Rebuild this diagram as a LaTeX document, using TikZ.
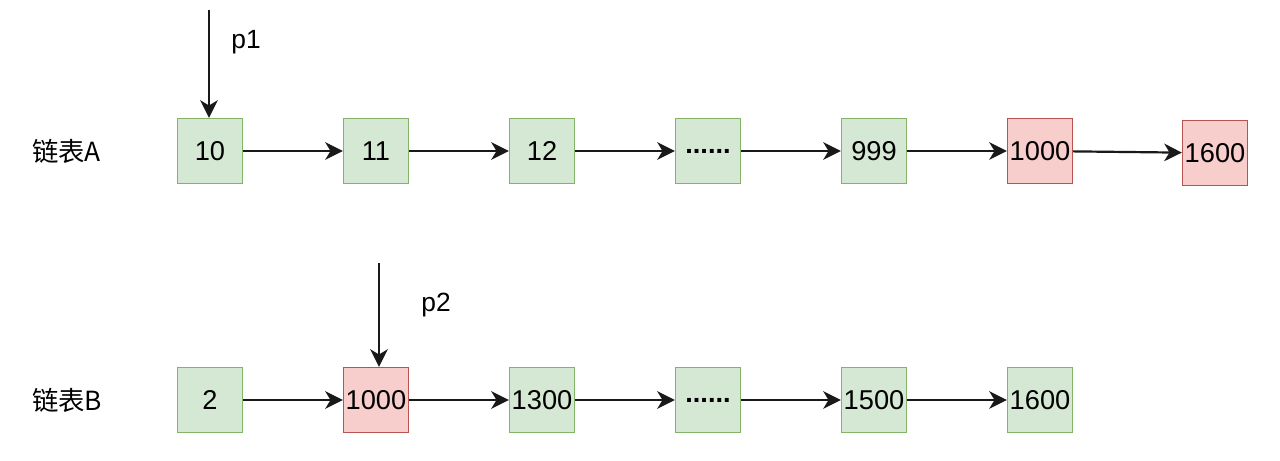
\documentclass[tikz,border=0pt]{standalone}
\usepackage{fontspec}
\setmainfont{Liberation Sans}
\newfontfamily\cjkfont{Noto Sans CJK SC}
\usetikzlibrary{arrows.meta}
\definecolor{nodegreen}{HTML}{D5E8D4}
\definecolor{edgegreen}{HTML}{82B366}
\definecolor{nodered}{HTML}{F8CECC}
\definecolor{edgered}{HTML}{B85450}
\begin{document}
\begin{tikzpicture}[
    x=0.02cm, y=-0.02cm,
    % Define styles
    cell/.style={rectangle, draw=edgegreen, fill=nodegreen, line width=0.8pt, minimum width=1.3cm, minimum height=1.3cm, inner sep=0pt, text centered, font=\fontsize{15.5}{18}\selectfont},
    hit/.style={cell, draw=edgered, fill=nodered},
    listname/.style={font=\cjkfont\fontsize{15}{18}\selectfont, anchor=west},
    ptrname/.style={font=\fontsize{15}{18}\selectfont},
    flow/.style={-{Stealth[length=10pt, width=10pt, inset=3pt]}, line width=1.25pt, color=black!90}
]
\useasboundingbox (0,0) rectangle (1280,460);

% List A
\node[listname] (list_a) at (26, 151) {链表A};
\node[cell] (a_10) at (210, 151) {10};
\node[cell] (a_11) at (376, 151) {11};
\node[cell] (a_12) at (542, 151) {12};
\node[cell] (a_dots) at (708, 151) {\textbf{......}};
\node[cell] (a_999) at (874, 151) {999};
\node[hit] (a_1000) at (1040, 151) {1000};
\node[hit] (a_1600) at (1215, 153) {1600};

% List B
\node[listname] (list_b) at (26, 400) {链表B};
\node[cell] (b_2) at (210, 400) {2};
\node[hit] (b_1000) at (376, 400) {1000};
\node[cell] (b_1300) at (542, 400) {1300};
\node[cell] (b_dots) at (708, 400) {\textbf{......}};
\node[cell] (b_1500) at (874, 400) {1500};
\node[cell] (b_1600) at (1040, 400) {1600};

% Pointers
\coordinate (p1_start) at (209, 10);
\coordinate (p2_start) at (379, 263);
\node[ptrname] (p1_label) at (246, 42) {p1};
\node[ptrname] (p2_label) at (436, 305) {p2};
\draw[flow] (p1_start) -- (p1_start |- a_10.north);
\draw[flow] (p2_start) -- (p2_start |- b_1000.north);

% Links of list A
\draw[flow] (a_10) -- (a_11);
\draw[flow] (a_11) -- (a_12);
\draw[flow] (a_12) -- (a_dots);
\draw[flow] (a_dots) -- (a_999);
\draw[flow] (a_999) -- (a_1000);
\draw[flow] (a_1000) -- (a_1600);

% Links of list B
\draw[flow] (b_2) -- (b_1000);
\draw[flow] (b_1000) -- (b_1300);
\draw[flow] (b_1300) -- (b_dots);
\draw[flow] (b_dots) -- (b_1500);
\draw[flow] (b_1500) -- (b_1600);

\end{tikzpicture}
\end{document}
